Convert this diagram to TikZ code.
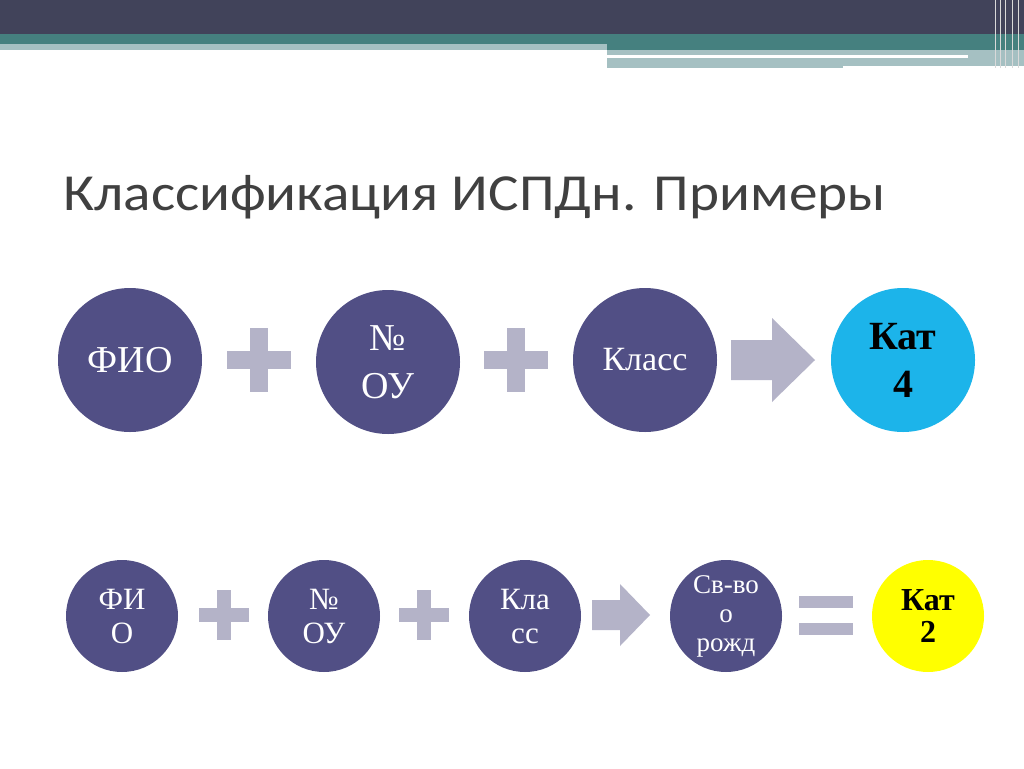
\documentclass[tikz,border=0pt]{standalone}
\usepackage{fontspec}
\setmainfont{Liberation Serif}
\newfontfamily\titlefont{Carlito}
\definecolor{dark}{HTML}{41435A}
\definecolor{teal}{HTML}{45807F}
\definecolor{lteal}{HTML}{A5C0C2}
\definecolor{circ}{HTML}{514F85}
\definecolor{sym}{HTML}{B4B3C8}
\definecolor{cyanc}{HTML}{1CB4EA}
\definecolor{yel}{HTML}{FFFF00}
\begin{document}
\begin{tikzpicture}[x=1pt,y=-1pt,
  big/.style={circle,fill=circ,minimum size=144pt,inner sep=0pt,text=white,font=\fontsize{38}{48}\selectfont,align=center},
  small/.style={circle,fill=circ,minimum size=112pt,inner sep=0pt,text=white,font=\fontsize{31}{34}\selectfont,align=center},
  symb/.style={fill=sym}]
\useasboundingbox (0,0) rectangle (1024,768);
\fill[white] (0,0) rectangle (1024,768);
\fill[dark] (0,0) rectangle (1024,34);
\fill[teal] (0,34) rectangle (607,44);
\fill[lteal] (0,44) rectangle (607,50);
\fill[teal] (607,34) rectangle (1024,50);
\fill[lteal] (607,50) rectangle (1024,68);
\fill[white] (607,55) rectangle (968,58);
\fill[white] (843,66) rectangle (1024,70);
\foreach \x in {995,1000,1005,1012,1018} \draw[white!70!gray,line width=1pt] (\x,0) -- (\x,68);
\node[anchor=base west,text=black!75,font=\titlefont\fontsize{52}{54}\selectfont] (title) at (60,210) {\scalebox{1.1}[1]{Классификация ИСПДн. Примеры}};
% row 1
\node[big] (a1) at (130,360) {ФИО};
\node[big,yshift=-2pt] (b1) at (388,360) {№\\ОУ};
\node[big,font=\fontsize{34}{36}\selectfont] (c1) at (645,360) {Класс};
\node[big,fill=cyanc,text=black,font=\bfseries\fontsize{40}{48}\selectfont] (d1) at (903,360) {Кат\\4};
\foreach \cx/\n in {259/p1,516/p2}{
  \fill[symb] (\cx-32,351) rectangle (\cx+32,369);
  \fill[symb] (\cx-9,328) rectangle (\cx+9,392);
  \coordinate (\n) at (\cx,360);}
\fill[symb] (731,340) -- (772,340) -- (772,318) -- (815,360) -- (772,402) -- (772,380) -- (731,380) -- cycle;
% row 2
\node[small] (a2) at (122,616) {ФИ\\О};
\node[small] (b2) at (324,616) {№\\ОУ};
\node[small] (c2) at (525,616) {Кла\\сс};
\node[small,font=\fontsize{27}{29}\selectfont] (d2) at (726,616) {Св-во\\о\\рожд};
\node[small,fill=yel,text=black,font=\bfseries\fontsize{32}{32}\selectfont] (e2) at (928,616) {Кат\\2};
\foreach \cx in {224,424}{
  \fill[symb] (\cx-25,608) rectangle (\cx+25,622);
  \fill[symb] (\cx-7,590) rectangle (\cx+7,640);}
\fill[symb] (592,600) -- (620,600) -- (620,584) -- (650,615) -- (620,646) -- (620,630) -- (592,630) -- cycle;
\fill[symb] (799,596) rectangle (853,608);
\fill[symb] (799,623) rectangle (853,635);
\end{tikzpicture}
\end{document}
